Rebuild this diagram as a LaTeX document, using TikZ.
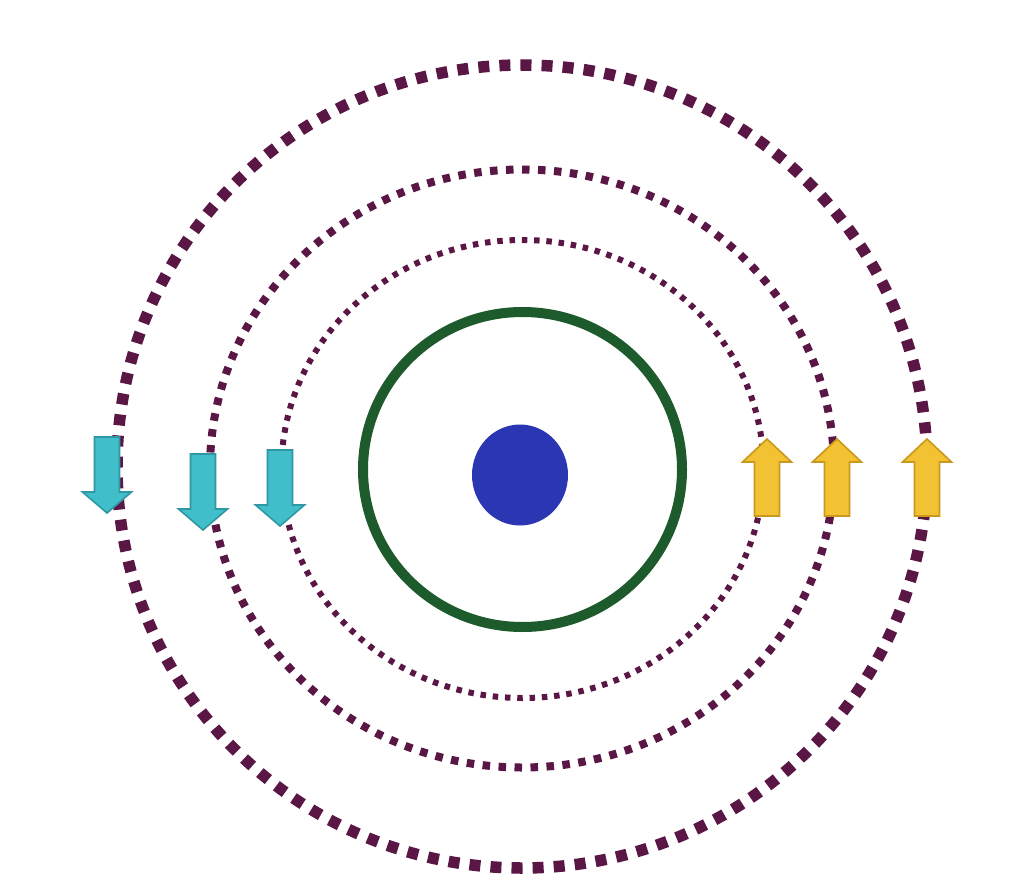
\documentclass[tikz,border=0pt]{standalone}
\begin{document}
\begin{tikzpicture}[x=1pt,y=-1pt,
  orbit/.style={draw=orbitc},
  cyanarrow/.style={fill=cyanf,draw=cyand,line width=1.6pt,line join=miter},
  yellowarrow/.style={fill=yelf,draw=yeld,line width=1.6pt,line join=miter},
  pics/downarr/.style={code={
    \path[cyanarrow] (0,0) -- (24.5,-21) -- (12.5,-21) -- (12.5,-76) -- (-12.5,-76) -- (-12.5,-21) -- (-24.5,-21) -- cycle;}},
  pics/uparr/.style={code={
    \path[yellowarrow] (0,0) -- (24.5,23) -- (12.5,23) -- (12.5,77) -- (-12.5,77) -- (-12.5,23) -- (-24.5,23) -- cycle;}}
]
\definecolor{orbitc}{HTML}{5A1745}
\definecolor{greenc}{HTML}{1D5B2C}
\definecolor{bluec}{HTML}{2A36B2}
\definecolor{cyanf}{HTML}{40BFCB}
\definecolor{cyand}{HTML}{2F97A4}
\definecolor{yelf}{HTML}{F3C232}
\definecolor{yeld}{HTML}{C9981C}
\useasboundingbox[fill=white] (0,0) rectangle (1024,888);
% orbits
\draw[orbit,line width=11.5pt,dash pattern=on 11pt off 10.1pt] (522,466.5) ellipse [x radius=405,y radius=401.5];
\draw[orbit,line width=8pt,dash pattern=on 7.5pt off 8.5pt] (522,468.5) ellipse [x radius=312,y radius=299];
\draw[orbit,line width=6pt,dash pattern=on 5.5pt off 6.8pt] (522.5,469) ellipse [x radius=241,y radius=229];
% green shell
\draw[greenc,line width=10pt] (522.5,469.5) ellipse [x radius=159.5,y radius=157.5];
% nucleus
\fill[bluec] (520,475) ellipse [x radius=48,y radius=50.5];
% arrows
\pic at (107,513) {downarr};
\pic at (203,530) {downarr};
\pic at (280,526) {downarr};
\pic at (767,439) {uparr};
\pic at (837,439) {uparr};
\pic at (927,439) {uparr};
\end{tikzpicture}
\end{document}
